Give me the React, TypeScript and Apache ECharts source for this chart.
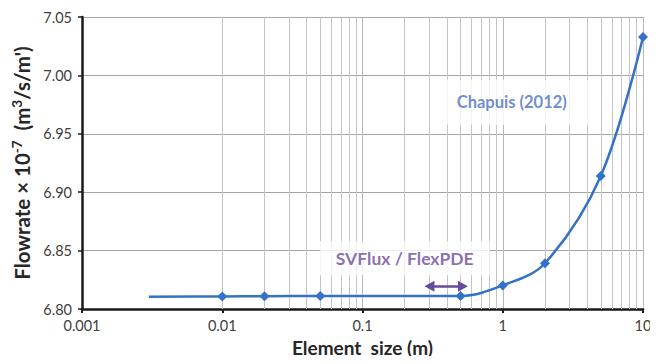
import React, { useEffect, useRef } from "react";
import * as echarts from "echarts";

const elementSizes = [0.003, 0.01, 0.02, 0.05, 0.5, 1, 2, 5, 10];
const flowrates = [6.8105, 6.8107, 6.811, 6.8112, 6.8112, 6.8202, 6.8392, 6.9139, 7.0329];
const markerless = [true, false, false, false, false, false, false, false, false];
const xTicks = [0.001, 0.01, 0.1, 1, 10];
const minorMultipliers = [2, 3, 4, 5, 6, 7, 8, 9];
const svfluxRange = [0.3, 0.52];
const svfluxArrowY = 6.8195;
const chapuisLabel = { text: "Chapuis (2012)", x: 1.16, y: 6.977 };
const svfluxLabel = { text: "SVFlux / FlexPDE", x: 0.2, y: 6.8435 };

const FONT = "Lato, 'Open Sans', sans-serif";

export default function App() {
  const ref = useRef<HTMLDivElement>(null);
  useEffect(() => {
    if (!ref.current) return;
    const chart = echarts.init(ref.current, undefined, { renderer: "svg" });
    const minorLines: any[] = [];
    for (let d = 0; d < xTicks.length - 1; d++) {
      for (const m of minorMultipliers) {
        minorLines.push({ xAxis: xTicks[d] * m });
      }
    }
    const fmt = (v: number) => {
      const r = xTicks.find((t) => Math.abs(Math.log10(t) - Math.log10(v)) < 1e-6);
      return r !== undefined ? String(r) : "";
    };
    const titleBase = { fontSize: 20.5, fontWeight: "bold", color: "#262626", fontFamily: FONT, verticalAlign: "bottom" };
    chart.setOption({
      animation: false,
      backgroundColor: "#ffffff",
      textStyle: { fontFamily: FONT },
      grid: { left: 82, right: 15, top: 17, bottom: 55, outerBoundsMode: "none", containLabel: false },
      xAxis: {
        type: "log",
        logBase: 10,
        min: 0.001,
        max: 10,
        name: "Element  size (m)",
        nameLocation: "middle",
        nameGap: 27,
        nameTextStyle: { fontSize: 19, fontWeight: "bold", color: "#262626", fontFamily: FONT },
        axisLine: { lineStyle: { color: "#1a1a1a", width: 2.5 } },
        axisTick: { show: true, length: 4, lineStyle: { color: "#1a1a1a", width: 2 } },
        axisLabel: { formatter: fmt, fontSize: 14.5, color: "#404040", margin: 9, fontFamily: FONT },
        splitLine: { show: true, lineStyle: { color: "#b8b8b8", width: 1 } },
      },
      yAxis: {
        type: "value",
        min: 6.8,
        max: 7.05,
        interval: 0.05,
        name: "{t|Flowrate × 10}{s|-7}{t|  (m}{s|3}{t|/s/m')}",
        nameLocation: "middle",
        nameGap: 46,
        nameTextStyle: {
          ...titleBase,
          rich: {
            t: { ...titleBase },
            s: { ...titleBase, fontSize: 13.5, padding: [0, 0, 8, 0] },
          },
        },
        axisLine: { show: true, lineStyle: { color: "#1a1a1a", width: 2.5 } },
        axisTick: { show: true, length: 4, lineStyle: { color: "#1a1a1a", width: 1.5 } },
        axisLabel: { formatter: (v: number) => v.toFixed(2), fontSize: 14.5, color: "#404040", margin: 10, fontFamily: FONT },
        splitLine: { show: true, lineStyle: { color: "#a6a6a6", width: 1.2 } },
      },
      series: [
        {
          type: "line",
          data: [],
          z: 1,
          silent: true,
          markLine: {
            z: 1,
            silent: true,
            symbol: "none",
            label: { show: false },
            lineStyle: { color: "#c4c4c4", width: 1, type: "solid" },
            data: minorLines,
          },
        },
        {
          type: "line",
          z: 5,
          smooth: 0.35,
          symbol: "diamond",
          symbolSize: 10,
          lineStyle: { color: "#3471c8", width: 2.5 },
          itemStyle: { color: "#3471c8" },
          data: elementSizes.map((x, i) =>
            markerless[i]
              ? { value: [x, flowrates[i]], symbol: "none" }
              : { value: [x, flowrates[i]] }
          ),
          markLine: {
            z: 12,
            silent: true,
            symbol: ["triangle", "triangle"],
            symbolSize: [11, 10],
            label: { show: false },
            lineStyle: { color: "#6a4a9c", width: 2.5, type: "solid" },
            itemStyle: { color: "#6a4a9c" },
            data: [[{ coord: [svfluxRange[0], svfluxArrowY] }, { coord: [svfluxRange[1], svfluxArrowY] }]],
          },
        },
        {
          type: "scatter",
          z: 10,
          silent: true,
          symbolSize: 0,
          data: [
            { value: [chapuisLabel.x, chapuisLabel.y], name: chapuisLabel.text, label: { color: "#4a6fc0", fontSize: 16.5, padding: [14, 26] } },
            { value: [svfluxLabel.x, svfluxLabel.y], name: svfluxLabel.text, label: { color: "#6a4a9c", fontSize: 17.5, padding: [8, 16] } },
          ],
          label: {
            show: true,
            position: "inside",
            formatter: (p: any) => p.name,
            fontWeight: "bold",
            fontFamily: FONT,
            backgroundColor: "#ffffff",
          },
        },
      ],
    });
    return () => chart.dispose();
  }, []);
  return <div ref={ref} style={{ width: 658, height: 364, margin: -8 }} />;
}
